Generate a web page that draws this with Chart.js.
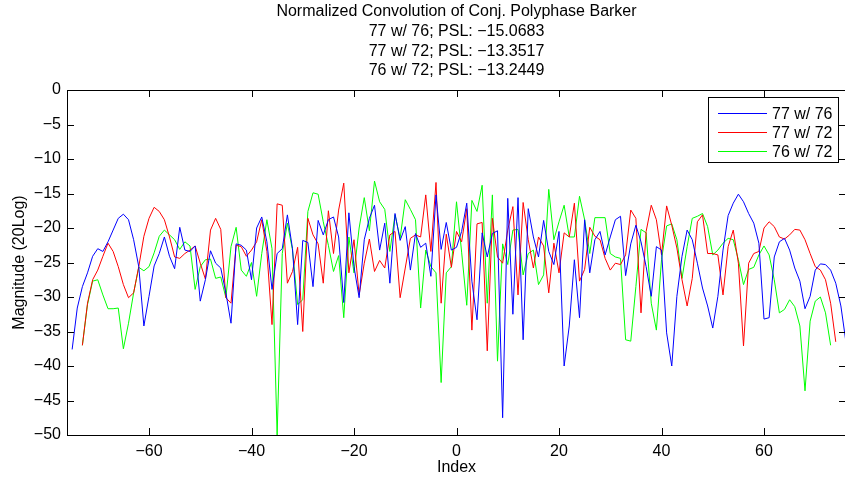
<!DOCTYPE html>
<html>
<head>
<meta charset="utf-8">
<title>Normalized Convolution of Conj. Polyphase Barker</title>
<script src="https://cdn.jsdelivr.net/npm/chart.js@4.4.1/dist/chart.umd.min.js"></script>
<style>
	html, body { margin: 0; padding: 0; background: #fff; overflow: hidden; }
	#wrap { width: 845px; height: 481px; overflow: hidden; }
</style>
</head>
<body>
<div id="wrap"><canvas id="canvas" width="860" height="481"></canvas></div>
<script>
// first index of each correlation (lag)
var blueStart = -75;
var redStart = -73;
var greenStart = -73;

// 77 w/ 76, lags -75..76
var blueValues = [
	-37.6, -31.6, -28.5, -26.5, -24.1, -23.0, -23.4, -22.0, -20.3, -18.6,
	-18.0, -18.8, -21.7, -25.6, -34.2, -29.9, -25.5, -23.7, -21.3, -24.1,
	-25.9, -19.9, -23.2, -23.4, -22.6, -30.6, -27.5, -23.3, -25.1, -25.8,
	-29.4, -33.8, -22.3, -22.5, -23.2, -27.5, -20.0, -18.4, -22.0, -28.9,
	-23.7, -23.0, -18.1, -23.0, -34.0, -21.8, -22.1, -28.5, -18.9, -21.0,
	-18.8, -18.4, -21.3, -30.8, -17.8, -25.6, -30.1, -21.7, -18.6, -16.7,
	-23.2, -19.3, -28.0, -17.9, -21.8, -19.8, -26.1, -20.8, -22.8, -22.2,
	-27.0, -15.2, -23.1, -19.2, -23.2, -22.8, -20.5, -16.4, -27.7, -33.3,
	-20.7, -24.2, -20.8, -20.4, -47.5, -15.7, -32.5, -15.6, -36.2, -17.2,
	-21.3, -24.2, -18.9, -23.4, -25.3, -20.5, -40.0, -34.2, -24.6, -33.0,
	-18.8, -26.5, -21.7, -20.5, -23.9, -21.3, -18.8, -18.3, -26.9, -22.3,
	-19.6, -22.0, -25.6, -29.9, -22.7, -23.2, -35.2, -40.0, -29.9, -24.1,
	-20.3, -21.7, -25.1, -28.7, -31.3, -34.5, -29.9, -23.2, -18.2, -16.4,
	-15.1, -16.2, -17.9, -19.3, -22.2, -33.2, -33.0, -24.2, -22.0, -21.5,
	-23.2, -25.8, -27.7, -31.7, -29.9, -26.1, -25.2, -25.3, -26.1, -28.0,
	-31.3, -36.6
];

// 77 w/ 72, lags -73..74
var redValues = [
	-37.0, -30.9, -27.5, -26.1, -24.1, -22.2, -23.4, -25.6, -28.2, -30.1,
	-29.4, -25.6, -21.2, -18.6, -17.0, -17.6, -18.8, -21.3, -24.2, -24.4,
	-23.7, -23.2, -22.6, -25.1, -27.4, -20.3, -18.6, -20.2, -30.1, -30.9,
	-22.5, -22.7, -24.1, -23.2, -22.0, -18.8, -23.4, -34.0, -16.5, -16.7,
	-28.0, -26.3, -22.8, -35.0, -18.6, -21.0, -22.3, -28.0, -17.5, -23.7,
	-17.4, -13.5, -26.5, -21.7, -29.7, -25.1, -21.6, -26.3, -24.7, -25.8,
	-21.0, -20.5, -30.1, -25.8, -21.5, -21.0, -21.3, -15.2, -23.4, -13.4,
	-30.9, -20.9, -25.7, -20.5, -22.0, -17.2, -34.8, -19.4, -19.2, -37.8,
	-18.6, -24.2, -25.1, -20.3, -16.9, -29.7, -16.3, -21.7, -25.8, -21.3,
	-22.6, -29.4, -22.2, -26.5, -20.7, -21.3, -16.4, -27.7, -26.0, -19.9,
	-21.2, -21.7, -24.4, -26.1, -25.1, -25.3, -23.9, -17.4, -18.6, -32.3,
	-20.5, -16.7, -18.8, -23.9, -16.8, -19.6, -22.9, -27.5, -31.3, -27.3,
	-19.1, -18.1, -23.7, -23.7, -23.9, -29.7, -22.7, -20.3, -25.1, -37.1,
	-25.1, -23.7, -23.4, -20.0, -19.1, -19.8, -21.3, -21.6, -21.0, -20.2,
	-20.3, -21.7, -23.7, -25.6, -26.1, -27.5, -30.9, -36.5
];

// 76 w/ 72, lags -73..73
var greenValues = [
	-37.0, -31.1, -27.7, -27.5, -29.7, -31.7, -31.7, -31.6, -37.5, -33.8,
	-29.4, -25.7, -26.2, -25.6, -23.6, -21.2, -20.3, -21.0, -21.7, -23.1,
	-22.0, -22.6, -28.9, -25.6, -24.6, -24.5, -27.3, -27.1, -30.1, -22.7,
	-19.9, -26.1, -27.0, -25.0, -29.9, -23.7, -18.8, -23.0, -50.0, -23.7,
	-19.3, -23.2, -31.1, -30.4, -17.6, -14.9, -15.1, -19.1, -22.5, -26.3,
	-24.0, -33.0, -21.3, -26.5, -20.0, -15.6, -20.4, -13.2, -16.2, -17.3,
	-23.4, -18.1, -21.5, -15.9, -17.3, -18.8, -31.6, -23.2, -25.6, -26.5,
	-42.4, -26.5, -25.6, -16.2, -23.5, -31.2, -16.0, -17.6, -13.8, -30.9,
	-15.2, -39.3, -22.3, -25.3, -20.3, -20.2, -26.8, -23.7, -23.2, -28.2,
	-26.8, -14.4, -21.7, -19.1, -16.7, -21.3, -21.3, -15.4, -18.8, -23.7,
	-18.5, -18.5, -18.5, -23.7, -24.2, -24.4, -36.2, -36.4, -28.5, -20.2,
	-20.7, -30.9, -34.8, -24.6, -19.7, -19.4, -21.7, -27.3, -22.7, -18.6,
	-18.3, -17.9, -19.8, -23.9, -23.2, -22.2, -21.5, -21.7, -24.6, -28.2,
	-26.0, -25.7, -23.9, -22.6, -23.9, -27.5, -32.3, -31.8, -30.4, -31.4,
	-34.2, -43.6, -33.5, -30.6, -30.0, -32.3, -37.0
];

var seriesNames = ['77 w/ 76', '77 w/ 72', '76 w/ 72'];
var titleLines = [
	'Normalized Convolution of Conj. Polyphase Barker',
	'77 w/ 76; PSL: \u221215.0683',
	'77 w/ 72; PSL: \u221213.3517',
	'76 w/ 72; PSL: \u221213.2449'
];
var xTicks = [-60, -40, -20, 0, 20, 40, 60];
var yTicks = [0, -5, -10, -15, -20, -25, -30, -35, -40, -45, -50];

var FONT = "'Liberation Sans', Arial, Helvetica, sans-serif";
var FSIZE = 16;

function toPoints(start, values) {
	var pts = [];
	for (var k = 0; k < values.length; k++) {
		pts.push({ x: start + k, y: values[k] });
	}
	return pts;
}

function minus(v) {
	return v < 0 ? '\u2212' + Math.abs(v) : String(v);
}

// box round the axes, inward ticks, title and legend (MATLAB look)
var matlabFrame = {
	id: 'matlabFrame',
	afterDraw: function(chart) {
		var ctx = chart.ctx;
		var a = chart.chartArea;
		var xs = chart.scales.x, ys = chart.scales.y;
		var tl = 7;

		ctx.save();
		ctx.strokeStyle = '#000';
		ctx.lineWidth = 1;
		ctx.beginPath();
		ctx.rect(a.left + 0.5, a.top + 0.5, a.right - a.left, a.bottom - a.top);
		for (var i = 0; i < xTicks.length; i++) {
			var px = Math.round(xs.getPixelForValue(xTicks[i])) + 0.5;
			ctx.moveTo(px, a.bottom); ctx.lineTo(px, a.bottom - tl);
			ctx.moveTo(px, a.top); ctx.lineTo(px, a.top + tl);
		}
		for (var j = 0; j < yTicks.length; j++) {
			var py = Math.round(ys.getPixelForValue(yTicks[j])) + 0.5;
			ctx.moveTo(a.left, py); ctx.lineTo(a.left + tl, py);
			ctx.moveTo(a.right, py); ctx.lineTo(a.right - tl, py);
		}
		ctx.stroke();

		// title
		ctx.fillStyle = '#000';
		ctx.font = FSIZE + 'px ' + FONT;
		ctx.textAlign = 'center';
		ctx.textBaseline = 'middle';
		var cx = (a.left + a.right) / 2;
		for (var t = 0; t < titleLines.length; t++) {
			ctx.fillText(titleLines[t], cx, 12 + t * 19.6);
		}

		// legend
		var bx = 708, by = 97, bw = 130, bh = 65;
		ctx.fillStyle = '#fff';
		ctx.fillRect(bx, by, bw, bh);
		ctx.strokeRect(bx + 0.5, by + 0.5, bw, bh);
		ctx.textAlign = 'left';
		var ds = chart.data.datasets;
		for (var d = 0; d < ds.length; d++) {
			var ry = Math.round(by + 15.5 + d * 19) + 0.5;
			ctx.strokeStyle = ds[d].borderColor;
			ctx.beginPath();
			ctx.moveTo(bx + 10, ry);
			ctx.lineTo(bx + 59, ry);
			ctx.stroke();
			ctx.fillStyle = '#000';
			ctx.fillText(ds[d].label, bx + 64, ry + 1);
		}
		ctx.restore();
	}
};

var ctx = document.getElementById('canvas').getContext('2d');
var chart = new Chart(ctx, {
	type: 'line',
	data: {
		datasets: [{
			label: seriesNames[0],
			data: toPoints(blueStart, blueValues),
			borderColor: '#0000ff'
		}, {
			label: seriesNames[1],
			data: toPoints(redStart, redValues),
			borderColor: '#ff0000'
		}, {
			label: seriesNames[2],
			data: toPoints(greenStart, greenValues),
			borderColor: '#00ff00'
		}]
	},
	options: {
		responsive: false,
		maintainAspectRatio: false,
		animation: false,
		elements: {
			line: { borderWidth: 1, tension: 0 },
			point: { radius: 0, hoverRadius: 0 }
		},
		layout: {
			padding: { left: 0, right: 14, top: 90, bottom: 0 }
		},
		plugins: {
			legend: { display: false },
			title: { display: false },
			tooltip: { enabled: false }
		},
		scales: {
			x: {
				type: 'linear',
				min: -76,
				max: 76,
				afterBuildTicks: function(scale) {
					scale.ticks = xTicks.map(function(v) { return { value: v }; });
				},
				afterFit: function(scale) { scale.height = 46; },
				grid: { display: false, drawTicks: false },
				border: { display: false },
				ticks: {
					color: '#000',
					font: { family: FONT, size: FSIZE },
					padding: 7,
					maxRotation: 0,
					autoSkip: false,
					callback: function(v) { return minus(v); }
				},
				title: {
					display: true,
					text: 'Index',
					color: '#000',
					font: { family: FONT, size: FSIZE },
					padding: { top: 0, bottom: 4 }
				}
			},
			y: {
				min: -50,
				max: 0,
				afterBuildTicks: function(scale) {
					scale.ticks = yTicks.map(function(v) { return { value: v }; });
				},
				afterFit: function(scale) { scale.width = 67; },
				grid: { display: false, drawTicks: false },
				border: { display: false },
				ticks: {
					color: '#000',
					font: { family: FONT, size: FSIZE },
					padding: 6,
					autoSkip: false,
					callback: function(v) { return minus(v); }
				},
				title: {
					display: true,
					text: 'Magnitude (20Log)',
					color: '#000',
					font: { family: FONT, size: FSIZE },
					padding: { top: 10, bottom: 0 }
				}
			}
		}
	},
	plugins: [matlabFrame]
});
</script>
</body>
</html>
